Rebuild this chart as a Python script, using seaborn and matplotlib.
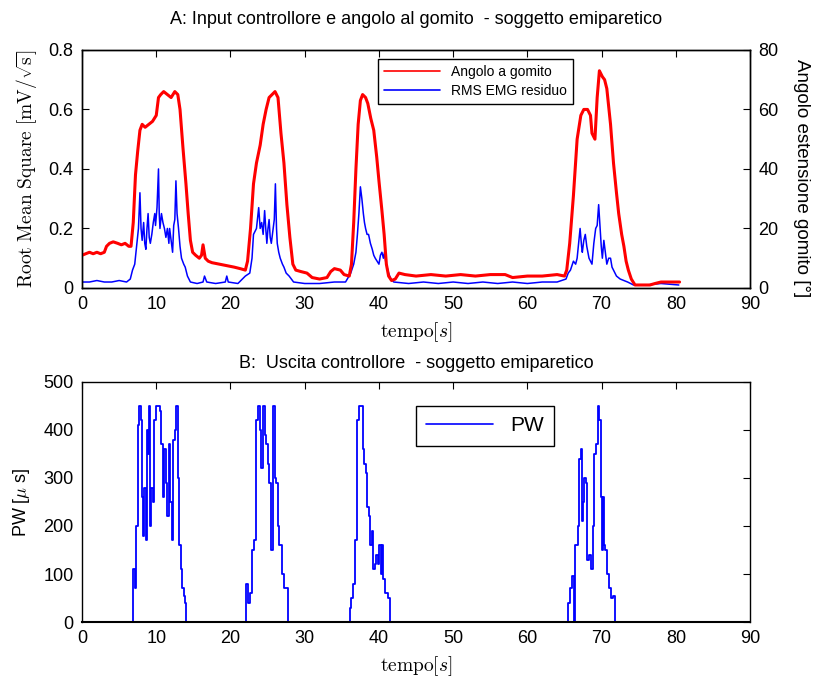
import numpy as np
import pandas as pd
import matplotlib
matplotlib.use("Agg")
import matplotlib.pyplot as plt
import seaborn as sns
from matplotlib.lines import Line2D

# ---------------- data ----------------
ang_t = [0, 0.5, 1, 1.5, 2, 2.5, 3, 3.3, 3.7, 4.2, 4.8, 5.3, 5.8, 6.3, 6.6, 6.9, 7.2, 7.5, 7.8,
         8.1, 8.5, 9, 9.5, 10, 10.3, 10.6, 11, 11.5, 12, 12.5, 12.9, 13.2, 13.6, 14.0, 14.3,
         14.6, 14.9, 15.3, 15.8, 16.1, 16.3, 16.6, 17, 17.5, 18.5, 19.5, 20.5, 21.3, 22, 22.3,
         22.7, 23.1, 23.5, 24, 24.4, 24.8, 25.2, 25.6, 26, 26.4, 26.8, 27.2, 27.6, 28.0, 28.4,
         28.8, 29.5, 30.3, 31, 32, 33, 33.5, 34, 34.8, 35.3, 36.0, 36.3, 36.6, 36.9, 37.2, 37.5,
         37.8, 38.2, 38.5, 38.9, 39.3, 39.7, 40.0, 40.4, 40.7, 41.0, 41.3, 41.7, 42.2, 42.7,
         43.5, 45, 47, 49, 51, 53, 55, 57, 58, 60, 62, 64, 65, 65.3, 65.7, 66.2, 66.7, 67.2,
         67.6, 68.1, 68.5, 68.7, 69.1, 69.4, 69.7, 70.1, 70.4, 70.7, 71.2, 71.6, 72.0, 72.3,
         72.7, 73.0, 73.3, 73.6, 74.0, 74.5, 75.5, 76.5, 77.2, 78, 79, 80, 80.5]
ang_deg = [11, 11.5, 12, 11.5, 12, 11.5, 12, 14, 15, 15.5, 15, 14.5, 15, 14, 14, 22, 38, 46, 53,
           55, 54, 55, 56, 58, 64, 65, 66, 65, 64, 66, 65, 60, 47, 35, 25,
           16, 12, 11, 10, 11, 14.5, 10, 9, 8.5, 8, 7.5, 7, 6.5, 6, 9,
           20, 35, 42, 48, 55, 60, 64, 65, 66, 64, 52, 42, 28, 17, 8,
           6, 5.5, 5, 3.5, 3, 3.5, 5.5, 6.5, 6, 4.5, 4, 8, 22, 40, 55, 63,
           65, 64, 62, 57, 53, 44, 36, 26, 18, 8, 4, 2.5, 3, 5,
           4.5, 4, 4.5, 4, 4.5, 4, 4.5, 4.5, 3.5, 4, 4, 4.5, 4, 6, 15, 31, 50, 58,
           60, 60, 58, 52, 50, 64, 73, 71, 70, 67, 55, 42, 32, 25,
           18, 14, 9, 6, 3, 1, 1, 1, 1.5, 2, 2, 2, 2]

rms_t = [0, 1, 2, 3, 4, 5, 6, 6.5, 6.8, 7.1, 7.4, 7.6, 7.8, 7.95, 8.1, 8.3, 8.45, 8.6, 8.75,
         8.9, 9.05, 9.2, 9.4, 9.6, 9.8, 9.9, 10.1, 10.3, 10.4, 10.5, 10.7, 10.9, 11.1, 11.3,
         11.5, 11.7, 11.8, 12.0, 12.2, 12.35, 12.5, 12.65, 12.8, 13.0, 13.2, 13.4, 13.7, 13.9,
         14.2, 14.6, 15.5, 16.3, 16.5, 16.8, 18, 19.3, 19.5, 19.7, 21, 22, 22.6, 22.9, 23.1,
         23.5, 23.8, 24.0, 24.2, 24.4, 24.6, 24.75, 24.9, 25.05, 25.2, 25.35, 25.5, 25.7, 25.9,
         26.05, 26.2, 26.3, 26.5, 26.7, 27.0, 27.2, 27.5, 27.9, 28.2, 28.5, 30, 32, 34, 35.5,
         36.2, 36.6, 36.9, 37.1, 37.3, 37.5, 37.7, 37.9, 38.05, 38.2, 38.4, 38.6, 38.85, 39.1,
         39.3, 39.5, 39.75, 40.0, 40.2, 40.4, 40.6, 40.75, 40.9, 41.1, 41.3, 41.6, 42.0, 44,
         46, 48, 50, 52, 54, 56, 58, 60, 62, 64, 65.2, 65.5, 65.8, 66.2, 66.5, 66.7, 66.9,
         67.1, 67.3, 67.4, 67.6, 67.8, 68.0, 68.3, 68.5, 68.7, 68.95, 69.2, 69.4, 69.6, 69.7,
         69.8, 69.95, 70.1, 70.3, 70.5, 70.7, 70.95, 71.2, 71.4, 71.6, 72.0, 72.5, 73.5, 74.3,
         76, 78, 80.4]
rms_val = [0.02, 0.02, 0.025, 0.02, 0.02, 0.025, 0.02, 0.03, 0.06, 0.08, 0.15, 0.2, 0.32, 0.2,
           0.16, 0.22, 0.15, 0.13, 0.2, 0.25, 0.17, 0.15, 0.18, 0.22, 0.25, 0.21, 0.27, 0.40,
           0.25, 0.2, 0.25, 0.22, 0.2, 0.17, 0.2, 0.15, 0.2, 0.16, 0.12, 0.21, 0.23, 0.36, 0.25,
           0.2, 0.14, 0.1, 0.08, 0.07, 0.04, 0.02, 0.015, 0.02, 0.04, 0.02, 0.015, 0.02, 0.04,
           0.02, 0.015, 0.04, 0.05, 0.1, 0.18, 0.2, 0.27, 0.2, 0.22, 0.18, 0.26, 0.2, 0.15, 0.2,
           0.23, 0.17, 0.15, 0.19, 0.23, 0.35, 0.2, 0.15, 0.12, 0.1, 0.08, 0.07, 0.05, 0.04,
           0.03, 0.02, 0.015, 0.015, 0.02, 0.02, 0.05, 0.08, 0.12, 0.18, 0.25, 0.34, 0.3, 0.25,
           0.22, 0.2, 0.18, 0.18, 0.15, 0.13, 0.11, 0.1, 0.09, 0.08, 0.11, 0.12, 0.1, 0.12, 0.09,
           0.07, 0.05, 0.03, 0.02, 0.015, 0.02, 0.015, 0.02, 0.015, 0.02, 0.015, 0.02, 0.015,
           0.02, 0.02, 0.03, 0.05, 0.06, 0.09, 0.08, 0.1, 0.15, 0.2, 0.14, 0.12, 0.16, 0.18,
           0.14, 0.1, 0.09, 0.08, 0.15, 0.2, 0.21, 0.28, 0.24, 0.2, 0.14, 0.1, 0.16, 0.12, 0.08,
           0.1, 0.1, 0.07, 0.06, 0.04, 0.03, 0.02, 0.01, 0.01, 0.015, 0.01]

pw_t = [0, 6.9, 7.1, 7.3, 7.5, 7.7, 7.9, 8.05, 8.2, 8.4, 8.6, 8.75, 8.9, 9.05, 9.2, 9.35, 9.55,
        9.7, 9.9, 10.3, 10.5, 10.7, 10.9, 11.1, 11.3, 11.5, 11.7, 11.9, 12.1, 12.3, 12.5, 12.7,
        12.9, 13.1, 13.3, 13.5, 13.7, 13.9, 14.0,
        22.1, 22.3, 22.6, 22.9, 23.2, 23.4, 23.7, 23.95, 24.15, 24.35, 24.6, 24.85, 25.05,
        25.25, 25.45, 25.7, 25.95, 26.15, 26.35, 26.6, 26.9, 27.2, 27.7,
        36.1, 36.3, 36.55, 36.8, 37.05, 37.3, 37.6, 37.85, 38.05, 38.25, 38.45, 38.65, 38.85,
        39.05, 39.25, 39.45, 39.65, 39.85, 40.05, 40.25, 40.45, 40.6, 40.8, 41.0, 41.2, 41.55,
        65.5, 65.75, 66.0, 66.3, 66.45, 66.8, 67.0, 67.2, 67.35, 67.5, 67.65, 67.85, 68.05,
        68.3, 68.55, 68.8, 69.0, 69.2, 69.45, 69.65, 69.85, 70.0, 70.15, 70.3, 70.5, 70.75,
        71.0, 71.25, 71.5, 71.8, 80]
pw_val = [0, 110, 70, 200, 410, 450, 420, 260, 180, 280, 170, 400, 350, 450, 200, 280, 250,
          420, 450, 450, 440, 370, 260, 360, 290, 220, 370, 250, 170, 380, 400, 450,
          300, 160, 110, 70, 55, 40, 0,
          80, 40, 60, 150, 170, 420, 450, 400, 320, 450, 390, 370, 330,
          290, 150, 450, 300, 290, 200, 160, 100, 70, 0,
          30, 50, 80, 170, 420, 450, 450, 360, 330, 310, 240, 220, 160,
          190, 110, 120, 140, 120, 160, 100, 160, 90, 60, 60, 50, 0,
          40, 70, 95, 0, 160, 200, 340, 360, 210, 250, 300, 290, 130,
          140, 110, 200, 350, 370, 450, 420, 260, 150, 260, 160, 150, 100,
          70, 50, 55, 0, 0]

x_ticks = [0, 10, 20, 30, 40, 50, 60, 70, 80, 90]
rms_ticks = [0, 0.2, 0.4, 0.6, 0.8]
rms_tick_labels = ['0', '0.2', '0.4', '0.6', '0.8']
ang_ticks = [0, 20, 40, 60, 80]
pw_ticks = [0, 100, 200, 300, 400, 500]

# ---------------- style ----------------
sns.set_theme(style="white")
plt.rcParams['font.family'] = ['Liberation Sans', 'DejaVu Sans']
plt.rcParams['mathtext.fontset'] = 'cm'
plt.rcParams['axes.linewidth'] = 1.0
plt.rcParams['axes.edgecolor'] = 'black'
plt.rcParams['text.color'] = 'black'
plt.rcParams['axes.labelcolor'] = 'black'
plt.rcParams['axes.titlecolor'] = 'black'
plt.rcParams['xtick.color'] = 'black'
plt.rcParams['ytick.color'] = 'black'
plt.rcParams['legend.labelcolor'] = 'black'

TICK_FS = 13
fig = plt.figure(figsize=(8.22, 6.84), dpi=100)
fig.patch.set_facecolor('white')

ax1 = fig.add_axes([0.0998, 0.579, 0.8127, 0.348])
ax1r = ax1.twinx()
ax2 = fig.add_axes([0.0998, 0.0906, 0.8127, 0.351])

df_ang = pd.DataFrame({'t': ang_t, 'v': ang_deg})
df_rms = pd.DataFrame({'t': rms_t, 'v': rms_val})
df_pw = pd.DataFrame({'t': pw_t, 'v': pw_val})

sns.lineplot(data=df_rms, x='t', y='v', ax=ax1, color='#0000ff', linewidth=1.1,
             estimator=None, sort=False, legend=False)
sns.lineplot(data=df_ang, x='t', y='v', ax=ax1r, color='#ff0000', linewidth=2.2,
             estimator=None, sort=False, legend=False)
sns.lineplot(data=df_pw, x='t', y='v', ax=ax2, color='#0000ff', linewidth=1.3,
             estimator=None, sort=False, legend=False, drawstyle='steps-post')

for ax in (ax1, ax1r, ax2):
    for s in ax.spines.values():
        s.set_visible(True)
        s.set_color('black')
        s.set_zorder(10)
ax2.spines['bottom'].set_linewidth(1.5)

for ax in (ax1, ax2):
    ax.set_xlim(0, 90)
    ax.set_xticks(x_ticks)
    ax.tick_params(axis='both', direction='in', length=5, width=0.8, labelsize=TICK_FS,
                   top=True, colors='black', pad=6)

ax1.set_ylim(0, 0.8)
ax1.set_yticks(rms_ticks)
ax1.set_yticklabels(rms_tick_labels)
ax1r.set_ylim(0, 80)
ax1r.set_yticks(ang_ticks)
ax1r.tick_params(axis='y', direction='in', length=5, width=0.8, labelsize=TICK_FS, pad=6,
                 colors='black')
ax1r.set_ylabel('Angolo estensione gomito [°]', fontsize=13.5, rotation=-90,
                va='bottom', ha='center', rotation_mode='anchor')
ax1r.yaxis.set_label_coords(1.065, 0.46)
ax1r.set_xlabel('')

ax2.set_ylim(0, 500)
ax2.set_yticks(pw_ticks)
ax2.tick_params(axis='y', right=True)

ax1.set_ylabel(r'$\mathrm{Root\ Mean\ Square\ [mV/\sqrt{s}]}$', fontsize=14)
ax1.yaxis.set_label_coords(-0.063, 0.5)
ax1.set_xlabel(r'$\mathrm{tempo}[s]$', fontsize=14, labelpad=5)
ax1.set_title('A: Input controllore e angolo al gomito  - soggetto emiparetico',
              fontsize=13, pad=19)

ax2.set_ylabel(r'PW [$\mu$ s]', fontsize=13)
ax2.yaxis.set_label_coords(-0.075, 0.5)
ax2.set_xlabel(r'$\mathrm{tempo}[s]$', fontsize=14, labelpad=5)
ax2.set_title('B:  Uscita controllore  - soggetto emiparetico', fontsize=13, pad=10)

# legends
h1 = [Line2D([], [], color='#ff0000', lw=1.2), Line2D([], [], color='#0000ff', lw=1.2)]
leg1 = ax1r.legend(h1, ['Angolo a gomito', 'RMS EMG residuo'], loc='upper left',
                   bbox_to_anchor=(0.443, 0.962), borderaxespad=0, frameon=True,
                   fancybox=False, edgecolor='black', framealpha=1, handlelength=4.0,
                   borderpad=0.45, labelspacing=0.35, prop={'size': 10})
leg1.get_frame().set_linewidth(1.0)
leg1.set_zorder(20)

h2 = [Line2D([], [], color='#0000ff', lw=1.2)]
leg2 = ax2.legend(h2, ['PW'], loc='upper left', bbox_to_anchor=(0.5, 0.9), borderaxespad=0,
                  frameon=True, fancybox=False, edgecolor='black', framealpha=1,
                  handlelength=3.2, borderpad=0.5, prop={'size': 15})
leg2.get_frame().set_linewidth(1.0)

fig.savefig('out.png', dpi=100, facecolor='white')
